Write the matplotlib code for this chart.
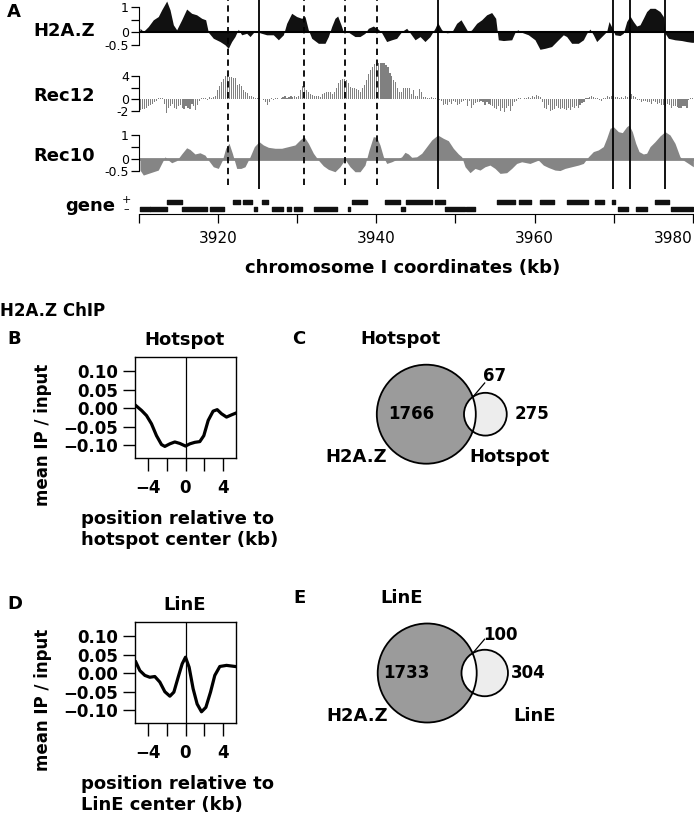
import matplotlib
matplotlib.use("Agg")
import matplotlib.pyplot as plt
import numpy as np
from matplotlib.patches import Circle

W, H = 694, 816

# ---------------- panel A data (chromosome I, kb) ----------------
h2az_kb = [3910.19, 3910.61, 3911.24, 3911.87, 3912.50, 3912.93, 3913.56, 3913.98, 3914.40, 3914.82,
           3915.45, 3916.08, 3916.71, 3917.34, 3917.98, 3918.48, 3918.82, 3919.45, 3920.29, 3920.92,
           3921.34, 3921.76, 3922.18, 3922.60, 3923.03, 3923.66, 3924.08, 3924.63, 3924.92, 3925.34,
           3926.18, 3927.02, 3927.66, 3928.29, 3928.71, 3929.34, 3929.97, 3930.60, 3931.02, 3931.44,
           3931.87, 3932.71, 3933.55, 3933.97, 3934.39, 3934.81, 3935.15, 3935.57, 3935.86, 3936.29,
           3936.71, 3937.33, 3937.96, 3938.60, 3939.02, 3939.65, 3940.29, 3940.71, 3941.33, 3941.97,
           3942.60, 3943.23, 3943.86, 3944.28, 3944.92, 3945.55, 3946.17, 3946.81, 3947.44, 3947.77,
           3948.28, 3948.91, 3949.54, 3950.17, 3950.72, 3951.22, 3951.64, 3952.07, 3952.70, 3953.33,
           3953.96, 3954.59, 3955.10, 3955.43, 3956.07, 3957.12, 3957.54, 3957.88, 3958.38, 3959.22,
           3960.06, 3960.69, 3961.33, 3962.16, 3963.00, 3963.64, 3964.06, 3964.69, 3965.53, 3966.17,
           3966.59, 3967.01, 3967.43, 3967.85, 3968.48, 3969.11, 3969.41, 3969.83, 3970.16, 3970.79,
           3971.21, 3971.64, 3972.06, 3972.48, 3972.90, 3973.32, 3973.74, 3974.16, 3974.58, 3975.21,
           3975.84, 3976.27, 3976.48, 3976.90, 3977.74, 3978.58, 3979.21, 3979.84, 3980.14]
h2az_val = [0.16, 0.03, 0.23, 0.50, 0.63, 0.90, 1.25, 0.90, 0.30, 0.10,
            0.50, 0.93, 0.76, 0.70, 0.56, 0.50, 0.00, -0.24, -0.37, -0.50,
            -0.64, -0.37, -0.17, 0.12, -0.10, -0.04, -0.17, 0.03, 0.07, -0.02,
            -0.10, -0.10, -0.30, -0.10, 0.36, 0.76, 0.63, 0.56, 0.63, 0.10,
            -0.24, -0.44, -0.44, -0.17, 0.23, 0.56, 0.65, 0.30, 0.03, 0.07,
            -0.04, -0.17, -0.17, -0.04, 0.16, 0.25, 0.12, -0.02, -0.37, -0.30,
            -0.24, 0.03, 0.16, -0.02, -0.30, -0.17, -0.37, -0.17, 0.16, 0.39,
            0.10, -0.02, 0.00, 0.36, 0.50, 0.23, 0.00, 0.10, 0.36, 0.50,
            0.70, 0.79, 0.56, -0.30, -0.33, -0.30, 0.00, 0.10, 0.00, -0.10,
            -0.30, -0.68, -0.64, -0.57, -0.30, -0.10, -0.17, -0.44, -0.44, -0.30,
            -0.04, 0.13, -0.10, -0.37, -0.17, 0.03, 0.43, 0.16, -0.10, -0.13,
            -0.04, 0.43, 0.65, 0.43, 0.25, 0.30, 0.56, 0.83, 0.96, 0.96,
            0.83, 0.63, -0.04, -0.24, -0.30, -0.33, -0.37, -0.40, -0.40]

# Rec12 ChIP-chip probes, one value every 250 bp from 3910.25 kb
rec12_start = 3910.25
rec12_step = 0.25
rec12_val = [
    -1.9, -1.8, -1.7, -1.5,  -1.2, -1.0, -0.8, -0.5,  -0.3, 0.1, 0.2, 0.1,  -0.8, -2.4, -1.5, -1.2,
    -0.9, -1.6, -1.8, -1.3,  -1.0, -1.5, -1.7, -1.2,  -1.6, -1.8, -0.9, -1.3,  -1.9, -1.0, -0.4, 0.1,
    0.2, 0.1, -0.2, 0.3,  0.2, 0.3, 0.5, 1.5,  2.2, 3.0, 3.5, 4.0,  4.1, 3.9, 3.8, 3.7,
    3.6, 2.5, 2.6, 2.3,  1.5, 1.3, 1.0, 0.6,  0.5, 0.3, 0.2, 0.1,  0.1, 0.05, -0.2, -0.6,
    -1.0, -0.5, 0.1, -0.1,  0.1, 0.1, -0.05, 0.2,  0.3, 0.5, 0.2, 0.4,  0.6, 0.3, 0.5, 0.4,
    0.5, 1.5, 2.2, 2.0,  1.5, 1.3, 0.9, 0.7,  0.6, 0.5, 0.5, 0.4,  0.8, 1.0, 1.3, 1.2,
    1.3, 0.9, 1.2, 2.0,  2.8, 3.3, 3.5, 3.4,  3.3, 2.8, 2.1, 2.0,  2.0, 1.7, 1.5, 1.3,
    2.0, 2.5, 3.3, 4.3,  5.0, 5.6, 6.1, 6.3,  6.3, 6.3, 6.2, 6.3,  6.0, 5.5, 4.6, 4.0,
    3.3, 2.9, 2.0, 1.3,  1.2, 2.0, 1.9, 2.0,  1.9, 0.8, 1.5, 0.6,  0.5, 1.8, 1.2, 0.4,
    0.3, 0.2, 0.1, 0.3,  0.2, 0.1, 0.05, -0.1,  -0.3, -1.0, -0.8, -1.0,  -0.6, -0.9, -0.3, -0.6,
    -1.0, -0.8, -0.5, -0.3,  -0.2, -1.3, -0.4, -1.5,  -1.1, -0.7, -0.5, -0.6,  -0.4, -0.6, -1.0, -0.5,
    -0.8, -1.0, -1.2, -1.5,  -1.8, -1.3, -2.0, -1.5,  -2.2, -1.6, -1.2, -2.0,  -1.2, -0.5, -0.3, 0.1,
    0.1, 0.05, 0.2, 0.1,  0.3, 0.2, 0.5, 0.4,  0.7, 0.6, 0.3, -0.5,  -1.5, -1.8, -1.0, -2.0,
    -1.9, -1.8, -1.2, -1.5,  -1.8, -1.6, -1.7, -1.9,  -1.5, -1.9, -1.4, -1.6,  -1.2, -1.5, -1.0, -0.7,
    -0.5, 0.1, 0.2, 0.3,  0.5, 0.3, 0.2, 0.1,  -0.1, -0.3, 0.1, 0.2,  0.5, 0.4, 0.6, 0.5,
    0.3, 0.4, 0.2, 0.3,  0.2, 0.5, 0.4, 0.5,  0.8, 0.5, 0.3, -0.2,  -0.2, -0.5, -0.4, -0.3,
    -0.6, -0.5, -0.8, -0.4,  -0.5, -0.9, -0.7, -1.0,  -1.0, -1.2, -0.9, -1.0,  -1.5, -1.3, -1.2, -1.4,
    -1.6, -1.5, -1.2, -1.3,  -1.6, -0.1, 0.1, 0.1,
]

rec10_kb = [3910.19, 3910.61, 3911.24, 3911.87, 3912.50, 3912.92, 3913.35, 3913.77, 3914.19, 3914.82,
            3915.45, 3916.08, 3916.50, 3917.13, 3917.76, 3918.40, 3918.82, 3919.45, 3920.08, 3920.59,
            3921.01, 3921.43, 3921.85, 3922.40, 3922.94, 3923.45, 3924.08, 3924.63, 3925.22, 3925.76,
            3926.40, 3927.24, 3928.08, 3928.92, 3929.76, 3930.39, 3930.90, 3931.45, 3932.08, 3932.71,
            3933.34, 3933.97, 3934.40, 3934.81, 3935.44, 3936.08, 3936.71, 3937.34, 3937.97, 3938.60,
            3939.11, 3939.65, 3940.07, 3940.49, 3940.92, 3941.34, 3941.97, 3942.60, 3943.23, 3943.65,
            3944.07, 3944.49, 3945.12, 3945.76, 3946.39, 3947.02, 3947.78, 3948.49, 3949.12, 3949.75,
            3950.39, 3950.81, 3951.23, 3951.86, 3952.49, 3953.12, 3953.75, 3954.38, 3955.01, 3955.65,
            3956.49, 3957.12, 3957.75, 3958.38, 3959.43, 3960.49, 3961.12, 3961.75, 3962.59, 3963.22,
            3963.85, 3964.69, 3965.54, 3966.17, 3966.80, 3967.43, 3968.06, 3968.69, 3969.11, 3969.54,
            3969.96, 3970.59, 3971.09, 3971.64, 3971.93, 3972.35, 3972.78, 3973.20, 3973.74, 3974.16,
            3974.59, 3975.22, 3975.85, 3976.48, 3977.11, 3977.74, 3978.37, 3978.79, 3979.43, 3980.06]
rec10_val = [-0.48, -0.69, -0.62, -0.55, -0.48, -0.20, 0.08, -0.06, -0.17, -0.08,
             0.20, 0.46, 0.39, 0.20, 0.25, 0.15, -0.06, -0.34, -0.41, -0.06,
             0.44, 0.65, 0.23, -0.41, -0.41, -0.34, 0.08, 0.51, 0.72, 0.58,
             0.48, 0.44, 0.44, 0.51, 0.58, 0.79, 0.93, 0.65, 0.23, -0.06,
             -0.30, -0.45, -0.50, -0.55, -0.34, -0.03, -0.34, -0.55, -0.55, -0.27,
             0.37, 0.93, 0.90, 0.58, 0.08, -0.20, -0.13, -0.03, 0.08, 0.27,
             0.20, 0.06, 0.08, 0.23, 0.51, 0.79, 1.00, 0.86, 0.76, 0.44,
             0.20, 0.08, -0.34, -0.59, -0.41, -0.48, -0.34, -0.27, -0.41, -0.62,
             -0.59, -0.41, -0.20, -0.13, -0.20, -0.06, -0.27, -0.37, -0.48, -0.50,
             -0.41, -0.34, -0.27, -0.20, 0.08, 0.30, 0.37, 0.51, 0.86, 1.28,
             1.35, 1.14, 1.10, 1.35, 1.42, 1.14, 0.65, 0.30, 0.20, 0.23,
             0.51, 0.72, 0.96, 1.14, 1.00, 0.65, 0.08, -0.06, -0.20, -0.34]

genes_plus = [(3913.64, 3915.45), (3921.9, 3922.8), (3923.2, 3924.3), (3925.6, 3926.3),
              (3936.9, 3938.8), (3941.1, 3943.0), (3943.8, 3947.0), (3947.4, 3948.7),
              (3955.3, 3957.5), (3958.0, 3959.5), (3960.7, 3962.5), (3964.1, 3966.8),
              (3967.6, 3968.8), (3969.8, 3970.2), (3975.2, 3977.0)]
genes_minus = [(3910.2, 3911.4), (3911.5, 3913.6), (3915.45, 3918.6), (3919.0, 3920.8),
               (3924.6, 3925.0), (3926.9, 3928.3), (3928.7, 3929.3), (3929.6, 3930.7),
               (3932.1, 3935.0), (3936.4, 3936.7), (3943.2, 3943.6), (3948.7, 3951.2),
               (3951.4, 3952.5), (3970.6, 3971.8), (3972.8, 3974.2), (3977.2, 3980.0)]

dashed_kb = [3921.34, 3930.90, 3936.08, 3940.07]
solid_kb = [3925.26, 3947.86, 3969.87, 3972.06, 3976.44]

# ---------------- panels B / D : mean profiles ----------------
hot_pos = [-5.34, -4.73, -4.19, -3.66, -3.12, -2.58, -2.22, -1.68, -1.15, -0.61, 0.0,
           0.47, 1.00, 1.54, 1.97, 2.44, 2.97, 3.41, 3.87, 4.41, 4.95, 5.34]
hot_val = [0.007, -0.006, -0.020, -0.042, -0.074, -0.098, -0.103, -0.096, -0.091, -0.095, -0.102,
           -0.096, -0.092, -0.090, -0.074, -0.033, -0.008, -0.004, -0.015, -0.024, -0.018, -0.014]
line_pos = [-5.34, -4.91, -4.37, -3.84, -3.30, -2.76, -2.22, -1.68, -1.25, -0.79, -0.36,
            0.0, 0.39, 0.82, 1.25, 1.72, 2.19, 2.69, 3.15, 3.69, 4.41, 5.34]
line_val = [0.030, 0.007, -0.006, -0.011, -0.009, -0.024, -0.050, -0.062, -0.051, -0.011, 0.025,
            0.043, 0.016, -0.042, -0.083, -0.104, -0.092, -0.051, -0.006, 0.018, 0.021, 0.018]

# ---------------- panels C / E : overlaps (H2A.Z only, both, other only) ----------------
venn_hotspot = (1766, 67, 275)
venn_line = (1733, 100, 304)

fig = plt.figure(figsize=(W / 100, H / 100), dpi=100)
BOLD = dict(fontweight="bold", color="black")
KB_MAX = 3910 + (694 - 138.5) / 7.92


def px_axes(x0, y0, x1, y1, **kw):
    return fig.add_axes([x0 / W, 1 - y1 / H, (x1 - x0) / W, (y1 - y0) / H], **kw)


def track_axes(y0, y1, zero_px, ppu, ticks, labels):
    ax = px_axes(138.5, y0, 694, y1)
    ax.patch.set_alpha(0)
    ax.set_xlim(3910, KB_MAX)
    ax.set_ylim((zero_px - y1) / ppu, (zero_px - y0) / ppu)
    for s in ["top", "right", "bottom"]:
        ax.spines[s].set_visible(False)
    ax.spines["left"].set_bounds(min(ticks), max(ticks))
    ax.set_xticks([])
    ax.set_yticks(ticks, labels=labels, fontsize=9)
    ax.tick_params(axis="y", length=5.5, width=0.9, pad=1.5)
    return ax


# H2A.Z track
ax = track_axes(0, 52, 32.3, 25, [-0.5, 0, 0.5, 1], ["-0.5", "0", "", "1"])
ax.fill_between(h2az_kb, h2az_val, 0, color="#111111", lw=0)
ax.axhline(0, color="black", lw=1.5)

# Rec12 track
ax = track_axes(60, 125, 99, 5.75, [-2, 0, 2, 4], ["-2", "0", "", "4"])
rec12_kb = rec12_start + rec12_step * np.arange(len(rec12_val))
ax.bar(rec12_kb, rec12_val, width=0.14, color="#808080", lw=0)

# Rec10 track
ax = track_axes(122, 180, 158.7, 23.7, [-0.5, 0, 0.5, 1], ["-0.5", "0", "", "1"])
ax.fill_between(rec10_kb, rec10_val, 0, color="#858585", lw=0)
ax.axhline(0, color="#858585", lw=2)

# gene track
gx = px_axes(138.5, 196, 694, 214)
gx.patch.set_alpha(0)
gx.set_xlim(3910, KB_MAX)
gx.set_ylim(0, 18)
gx.broken_barh([(s, e - s) for s, e in genes_plus], (10.3, 3.6), color="#111111")
gx.broken_barh([(s, e - s) for s, e in genes_minus], (3.0, 3.7), color="#111111")
for s in ["top", "right", "left"]:
    gx.spines[s].set_visible(False)
gx.spines["bottom"].set_bounds(3910, 3980)
gx.set_yticks([])
gx.set_xticks(range(3910, 3981, 10),
              labels=["" if k % 20 else str(k) for k in range(3910, 3981, 10)], fontsize=11)
gx.tick_params(axis="x", length=6.5, width=0.9, pad=6)
gx.get_xticklabels()[-1].set_horizontalalignment("right")

# vertical guide lines
vx = px_axes(138.5, 0, 694, 189)
vx.set_xlim(3910, KB_MAX)
vx.axis("off")
for k in solid_kb:
    vx.axvline(k, color="black", lw=1.3)
for k in dashed_kb:
    vx.axvline(k, ymin=0.02, color="black", lw=1.3, dashes=(3.5, 2.5))

fig.text(7 / W, 1 - 12 / H, "A", fontsize=13, ha="left", va="center", **BOLD)
for txt, y in [("H2A.Z", 31), ("Rec12", 96), ("Rec10", 156), ("gene", 206)]:
    fig.text((95 if txt != "gene" else 115) / W, 1 - y / H, txt, fontsize=13,
             ha="right", va="center", **BOLD)
fig.text(126 / W, 1 - 200 / H, "+", fontsize=8, ha="center", va="center")
fig.text(126 / W, 1 - 209 / H, "\u2013", fontsize=8, ha="center", va="center")
fig.text(403 / W, 1 - 268 / H, "chromosome I coordinates (kb)", fontsize=13,
         ha="center", va="center", **BOLD)
fig.text(0, 1 - 311 / H, "H2A.Z ChIP", fontsize=12, ha="left", va="center", **BOLD)


# ---------------- profile panels ----------------
def profile(y_top, pos, val, title, letter, center_name):
    ax = px_axes(135, y_top, 236, y_top + 101)
    ax.plot(pos, val, color="black", lw=2.3, solid_joinstyle="round")
    ax.axvline(0, color="black", lw=0.9)
    ax.set_xlim(-5.43, 5.43)
    ax.set_ylim(-0.135, 0.137)
    ax.set_yticks([0.1, 0.05, 0, -0.05, -0.1],
                  labels=["0.10", "0.05", "0.00", "\u22120.05", "\u22120.10"],
                  fontsize=12, fontweight="bold")
    ax.set_xticks([-4, -2, 0, 2, 4], labels=["\u22124", "", "0", "", "4"],
                  fontsize=12, fontweight="bold")
    ax.tick_params(axis="y", length=9, width=1, pad=3)
    ax.tick_params(axis="x", length=9, width=1, pad=6)
    for s in ax.spines.values():
        s.set_linewidth(1)
    fig.text(185 / W, 1 - (y_top - 17) / H, title, fontsize=13, ha="center", va="center", **BOLD)
    fig.text(7 / W, 1 - (y_top - 18) / H, letter, fontsize=13, ha="left", va="center", **BOLD)
    fig.text(43 / W, 1 - (y_top + 78) / H, "mean IP / input", fontsize=12, rotation=90,
             ha="center", va="center", **BOLD)
    fig.text(81 / W, 1 - (y_top + 162) / H, "position relative to", fontsize=13,
             ha="left", va="center", **BOLD)
    fig.text(81 / W, 1 - (y_top + 183) / H, center_name + " center (kb)", fontsize=13,
             ha="left", va="center", **BOLD)


profile(357.3, hot_pos, hot_val, "Hotspot", "B", "hotspot")
profile(622.3, line_pos, line_val, "LinE", "D", "LinE")

# ---------------- Venn panels ----------------
vax = fig.add_axes([0, 0, 1, 1], zorder=-1)
vax.set_xlim(0, W)
vax.set_ylim(H, 0)
vax.axis("off")

PX_PER_SQRT = 49.5 / np.sqrt(1833)


def lens_area(d, r1, r2):
    a1 = np.arccos((d * d + r1 * r1 - r2 * r2) / (2 * d * r1))
    a2 = np.arccos((d * d + r2 * r2 - r1 * r1) / (2 * d * r2))
    k = np.sqrt((-d + r1 + r2) * (d + r1 - r2) * (d - r1 + r2) * (d + r1 + r2))
    return r1 * r1 * a1 + r2 * r2 * a2 - 0.5 * k


def center_distance(r1, r2, area):
    lo, hi = abs(r1 - r2) + 1e-6, r1 + r2 - 1e-6
    for _ in range(60):
        mid = 0.5 * (lo + hi)
        if lens_area(mid, r1, r2) > area:
            lo = mid
        else:
            hi = mid
    return 0.5 * (lo + hi)


def venn(cx, cy, counts, name, letter, num_off):
    only_a, both, only_b = counts
    r1 = PX_PER_SQRT * np.sqrt(only_a + both)
    r2 = PX_PER_SQRT * np.sqrt(only_b + both)
    d = center_distance(r1, r2, np.pi * PX_PER_SQRT ** 2 * both)
    big = Circle((cx, cy), r1, fc="#9b9b9b", ec="none")
    vax.add_patch(big)
    vax.add_patch(Circle((cx + d, cy), r2, fc="#ededed", ec="none"))
    lens = Circle((cx + d, cy), r2, fc="white", ec="none")
    vax.add_patch(lens)
    lens.set_clip_path(big)
    vax.add_patch(Circle((cx, cy), r1, fill=False, ec="black", lw=1.3))
    vax.add_patch(Circle((cx + d, cy), r2, fill=False, ec="black", lw=1.3))
    # leader from the upper crossing point of the circles to the overlap count
    ix = (d * d + r1 * r1 - r2 * r2) / (2 * d)
    iy = -np.sqrt(r1 * r1 - ix * ix)
    vax.plot([cx + ix + 1, cx + ix + 12], [cy + iy - 1, cy + iy - 14], color="black", lw=0.9)
    kw = dict(fontsize=12, fontweight="bold", va="center")
    vax.text(cx + num_off[0], cy, str(only_a), ha="center", **kw)
    vax.text(cx + num_off[1], cy - 38, str(both), ha="center", **kw)
    vax.text(cx + num_off[2], cy, str(only_b), ha="center", **kw)
    kw13 = dict(fontsize=13, fontweight="bold", va="center")
    vax.text(cx - 70, cy + 43, "H2A.Z", ha="center", **kw13)
    vax.text(cx + num_off[3], cy + 43, name, ha="center", **kw13)
    vax.text(cx - 26, cy - 75, name, ha="center", **kw13)
    vax.text(cx - 128, cy - 75, letter, ha="center", **kw13)


venn(426.3, 414.2, venn_hotspot, "Hotspot", "C", (-14.6, 68.7, 105.4, 83.7))
venn(427.2, 673.0, venn_line, "LinE", "E", (-20.5, 72.8, 101.1, 107.8))

fig.savefig("out.png", dpi=100)
